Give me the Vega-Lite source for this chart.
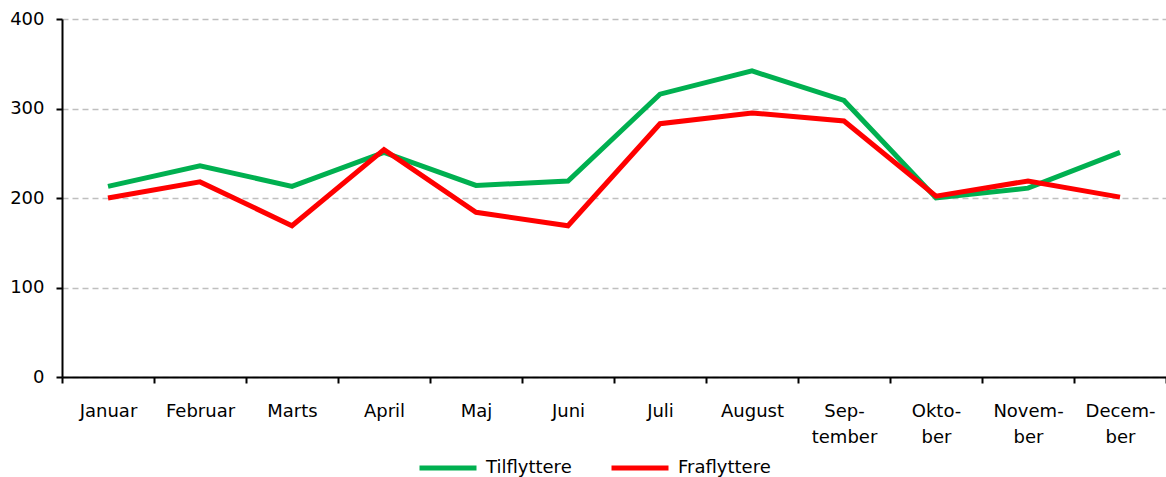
{
  "$schema": "https://vega.github.io/schema/vega-lite/v6.json",
  "width": 1104,
  "height": 358,
  "autosize": {"type": "none"},
  "padding": {"left": 62, "top": 19, "right": 0, "bottom": 100},
  "background": "white",
  "config": {
    "view": {"stroke": null},
    "font": "DejaVu Sans"
  },
  "data": {
    "values": [
      {"month": "Januar", "serie": "Tilflyttere", "value": 213},
      {"month": "Februar", "serie": "Tilflyttere", "value": 236},
      {"month": "Marts", "serie": "Tilflyttere", "value": 213},
      {"month": "April", "serie": "Tilflyttere", "value": 251},
      {"month": "Maj", "serie": "Tilflyttere", "value": 214},
      {"month": "Juni", "serie": "Tilflyttere", "value": 219},
      {"month": "Juli", "serie": "Tilflyttere", "value": 316},
      {"month": "August", "serie": "Tilflyttere", "value": 342},
      {"month": "Sep-|tember", "serie": "Tilflyttere", "value": 309},
      {"month": "Okto-|ber", "serie": "Tilflyttere", "value": 200},
      {"month": "Novem-|ber", "serie": "Tilflyttere", "value": 211},
      {"month": "Decem-|ber", "serie": "Tilflyttere", "value": 251},
      {"month": "Januar", "serie": "Fraflyttere", "value": 200},
      {"month": "Februar", "serie": "Fraflyttere", "value": 218},
      {"month": "Marts", "serie": "Fraflyttere", "value": 169},
      {"month": "April", "serie": "Fraflyttere", "value": 254},
      {"month": "Maj", "serie": "Fraflyttere", "value": 184},
      {"month": "Juni", "serie": "Fraflyttere", "value": 169},
      {"month": "Juli", "serie": "Fraflyttere", "value": 283},
      {"month": "August", "serie": "Fraflyttere", "value": 295},
      {"month": "Sep-|tember", "serie": "Fraflyttere", "value": 286},
      {"month": "Okto-|ber", "serie": "Fraflyttere", "value": 202},
      {"month": "Novem-|ber", "serie": "Fraflyttere", "value": 219},
      {"month": "Decem-|ber", "serie": "Fraflyttere", "value": 201}
    ]
  },
  "mark": {"type": "line", "strokeWidth": 5, "strokeJoin": "miter"},
  "encoding": {
    "x": {
      "field": "month",
      "type": "nominal",
      "sort": null,
      "bandPosition": 0.5,
      "scale": {"type": "band", "paddingInner": 0, "paddingOuter": 0},
      "axis": {
        "title": null,
        "labelAngle": 0,
        "tickBand": "extent",
        "labelExpr": "datum.value ? split(datum.value, '|') : ''",
        "labelFontSize": 18,
        "labelColor": "#000000",
        "labelPadding": 19,
        "labelLineHeight": 26,
        "labelBaseline": "top",
        "domainColor": "#000000",
        "domainWidth": 2,
        "tickColor": "#000000",
        "tickWidth": 2,
        "tickSize": 6,
        "grid": false
      }
    },
    "y": {
      "field": "value",
      "type": "quantitative",
      "scale": {"domain": [0, 400]},
      "axis": {
        "title": null,
        "values": [0, 100, 200, 300, 400],
        "labelFontSize": 18,
        "labelColor": "#000000",
        "labelPadding": 12,
        "domainColor": "#000000",
        "domainWidth": 2,
        "tickColor": "#000000",
        "tickWidth": 2,
        "tickSize": 6,
        "grid": true,
        "gridColor": "#BFBFBF",
        "gridWidth": 1.5,
        "gridDash": [6, 4]
      }
    },
    "color": {
      "field": "serie",
      "type": "nominal",
      "sort": ["Tilflyttere", "Fraflyttere"],
      "scale": {"domain": ["Tilflyttere", "Fraflyttere"], "range": ["#00B050", "#FF0000"]},
      "legend": {
        "title": null,
        "orient": "none",
        "legendX": 355,
        "legendY": 418,
        "direction": "horizontal",
        "symbolType": "stroke",
        "symbolSize": 3249,
        "symbolStrokeWidth": 5,
        "labelFontSize": 18,
        "labelColor": "#000000",
        "labelOffset": 7,
        "columnPadding": 29
      }
    }
  }
}
